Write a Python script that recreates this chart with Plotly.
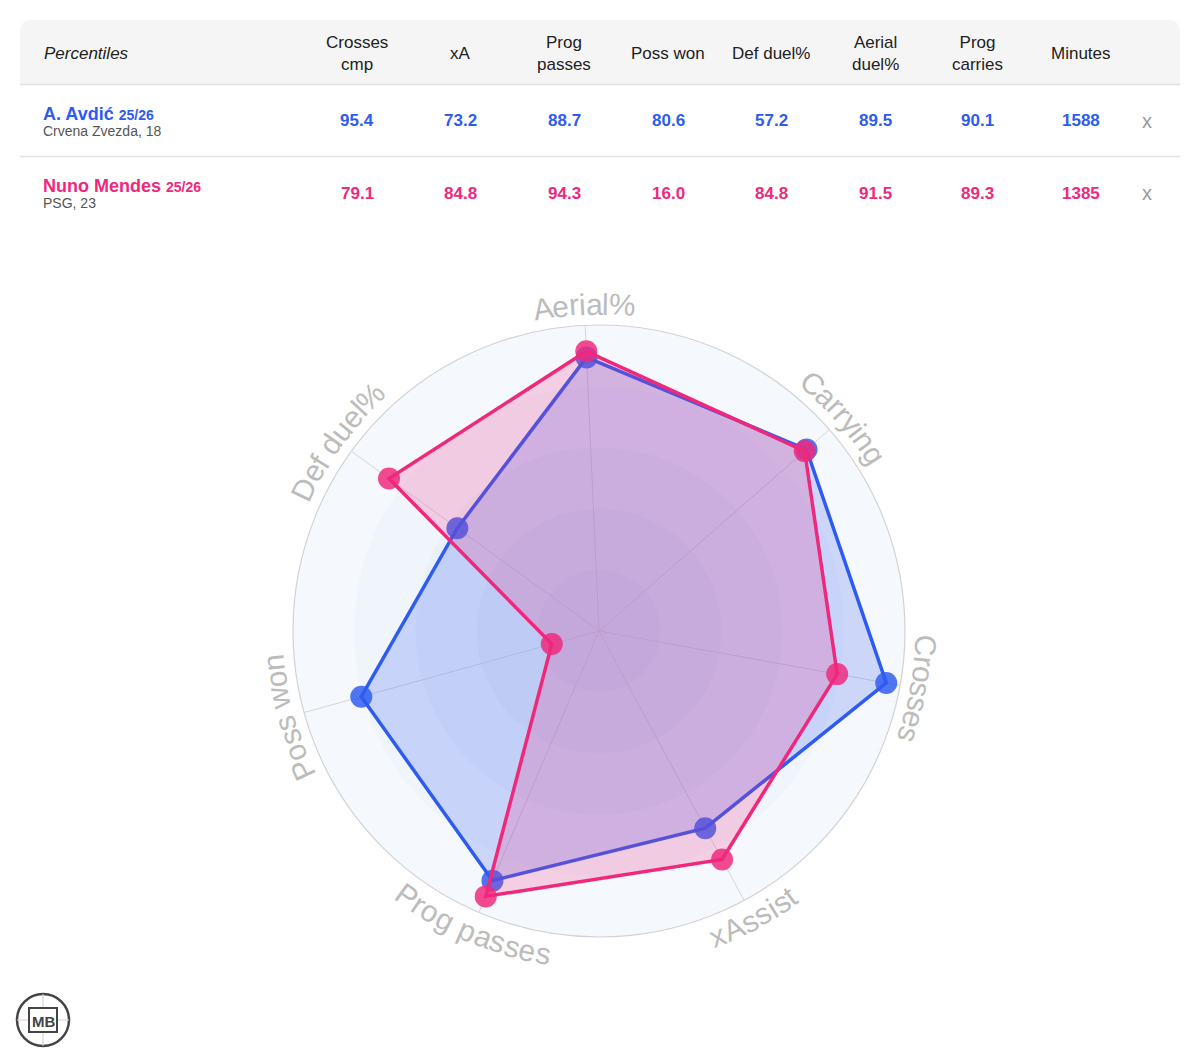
import math
import plotly.graph_objects as go

W, H = 1200, 1063

# ---------------- data ----------------
stat_headers = ["Crosses<br>cmp", "xA", "Prog<br>passes", "Poss won", "Def duel%",
                "Aerial<br>duel%", "Prog<br>carries", "Minutes"]
player_names = ["A. Avdić", "Nuno Mendes"]
player_seasons = ["25/26", "25/26"]
player_clubs = ["Crvena Zvezda, 18", "PSG, 23"]
avdic_pct = [95.4, 73.2, 88.7, 80.6, 57.2, 89.5, 90.1]
mendes_pct = [79.1, 84.8, 94.3, 16.0, 84.8, 91.5, 89.3]
avdic_minutes = 1588
mendes_minutes = 1385

radar_axes = ["Aerial%", "Carrying", "Crosses", "xAssist", "Prog passes", "Poss won", "Def duel%"]
avdic_radar = [89.5, 90.1, 95.4, 73.2, 88.7, 80.6, 57.2]
mendes_radar = [91.5, 89.3, 79.1, 84.8, 94.3, 16.0, 84.8]

band_levels = [100, 80, 60, 40, 20]
band_colors = ["#f5f8fc", "#f0f4fb", "#eaf0f9", "#e5ebf7", "#e0e7f5"]

BLUE = "#2f5cf0"
PINK = "#f0287c"
player_colors = [BLUE, PINK]

# ---------------- geometry helpers ----------------
def px(x):
    return x / W

def py(y):
    return 1 - y / H

CX, CY, RAD = 599, 631, 306
ROT = 92.6
polar_domain = dict(x=[px(CX - RAD), px(CX + RAD)], y=[py(CY + RAD), py(CY - RAD)])

FONT = "Liberation Sans, Arial, Helvetica, sans-serif"

fig = go.Figure()

# background bands (separate polar subplot underneath)
for lvl, col in zip(band_levels, band_colors):
    fig.add_trace(go.Barpolar(
        r=[lvl] * 4, theta=[45, 135, 225, 315], width=[90] * 4,
        marker=dict(color=col, line=dict(width=0)),
        hoverinfo="skip", subplot="polar", showlegend=False))

# radar traces
def closed(vals):
    return vals + vals[:1]

for vals, col, fillc in [(avdic_radar, BLUE, "rgba(47,92,240,0.21)"),
                         (mendes_radar, PINK, "rgba(240,40,124,0.20)")]:
    fig.add_trace(go.Scatterpolar(
        r=closed(vals), theta=closed(radar_axes), mode="lines", fill="toself",
        fillcolor=fillc, line=dict(color=col, width=3.5), subplot="polar2",
        hoverinfo="skip", showlegend=False))
    fig.add_trace(go.Scatterpolar(
        r=vals, theta=radar_axes, mode="markers",
        marker=dict(color=col, size=22, opacity=0.84, line=dict(width=0)),
        subplot="polar2", showlegend=False))

fig.update_layout(
    width=W, height=H,
    margin=dict(l=0, r=0, t=0, b=0),
    paper_bgcolor="white", plot_bgcolor="white",
    showlegend=False,
    polar=dict(
        domain=polar_domain, bgcolor="#f5f8fc", barmode="overlay", bargap=0,
        radialaxis=dict(range=[0, 100], visible=False, showgrid=False),
        angularaxis=dict(visible=False, showgrid=False, showline=False),
    ),
    polar2=dict(
        domain=polar_domain, bgcolor="rgba(0,0,0,0)",
        radialaxis=dict(range=[0, 100], visible=False, showgrid=False),
        angularaxis=dict(rotation=ROT, direction="clockwise", showticklabels=False,
                         ticks="", showline=True, linecolor="#d2d2d2", linewidth=1.2,
                         gridcolor="#d6d6d6", gridwidth=1),
    ),
)

annotations = []
shapes = []

# ---------------- curved axis labels ----------------
CHAR_W = {"A": 667, "e": 556, "r": 333, "i": 222, "a": 556, "l": 222, "%": 889, "C": 722,
          "y": 500, "n": 556, "g": 556, "o": 556, "s": 500, "x": 500, "S": 667, "t": 278,
          "P": 667, "p": 556, " ": 278, "w": 722, "D": 722, "f": 278, "d": 556, "u": 556}
LABEL_SIZE = 30
LABEL_R = 327

def norm(a):
    while a > 180:
        a -= 360
    while a < -180:
        a += 360
    return a

for k, name in enumerate(radar_axes):
    theta = norm(ROT - k * 360 / len(radar_axes))
    flip = -150 < theta < -30
    widths = [CHAR_W.get(c, 556) * LABEL_SIZE / 1000 for c in name]
    total = sum(widths)
    pos = -total / 2
    for c, w in zip(name, widths):
        mid = pos + w / 2
        pos += w
        if c == " ":
            continue
        d = math.degrees(mid / LABEL_R)
        ang = theta + d if flip else theta - d
        x = CX + LABEL_R * math.cos(math.radians(ang))
        y = CY - LABEL_R * math.sin(math.radians(ang))
        tang = norm((-90 - ang) if flip else (90 - ang))
        annotations.append(dict(
            x=px(x), y=py(y), xref="paper", yref="paper", text=c, showarrow=False,
            xanchor="center", yanchor="middle", textangle=tang,
            font=dict(family=FONT, size=LABEL_SIZE, color="#bcbcbc")))

# ---------------- table ----------------
L, R, T, HB = 20, 1180, 20, 84
rr = 12
shapes.append(dict(
    type="path", xref="paper", yref="paper",
    path=(f"M {px(L)},{py(HB)} L {px(L)},{py(T+rr)} Q {px(L)},{py(T)} {px(L+rr)},{py(T)} "
          f"L {px(R-rr)},{py(T)} Q {px(R)},{py(T)} {px(R)},{py(T+rr)} L {px(R)},{py(HB)} Z"),
    fillcolor="#f5f5f5", line=dict(width=0), layer="below"))
for yline in [84.5, 156.5]:
    shapes.append(dict(type="line", xref="paper", yref="paper",
                       x0=px(L), x1=px(R), y0=py(yline), y1=py(yline),
                       line=dict(color="#e2e2e2", width=1.5)))

col_x = [357, 460, 564, 668, 771, 875, 978, 1081]
annotations.append(dict(x=px(42), y=py(53), xref="paper", yref="paper", showarrow=False,
                        xanchor="left", yanchor="middle", text="<i>Percentiles</i>",
                        font=dict(family=FONT, size=17, color="#222222")))
for cx_, h in zip(col_x, stat_headers):
    annotations.append(dict(x=px(cx_), y=py(53.5), xref="paper", yref="paper", showarrow=False,
                            xanchor="center", yanchor="middle", text=h,
                            font=dict(family=FONT, size=17, color="#222222")))

rows_y = [121, 193]
all_vals = [avdic_pct + [avdic_minutes], mendes_pct + [mendes_minutes]]
for i in range(2):
    ry = rows_y[i]
    col = player_colors[i]
    annotations.append(dict(
        x=px(41), y=py(ry - 7), xref="paper", yref="paper", showarrow=False,
        xanchor="left", yanchor="middle",
        text=f"<b>{player_names[i]}</b> <b><span style='font-size:14px'>{player_seasons[i]}</span></b>",
        font=dict(family=FONT, size=18, color=col)))
    annotations.append(dict(
        x=px(41), y=py(ry + 10), xref="paper", yref="paper", showarrow=False,
        xanchor="left", yanchor="middle", text=player_clubs[i],
        font=dict(family=FONT, size=14, color="#555555")))
    for j, v in enumerate(all_vals[i]):
        txt = f"{v:.1f}" if j < 7 else f"{v}"
        annotations.append(dict(
            x=px(col_x[j]), y=py(ry), xref="paper", yref="paper", showarrow=False,
            xanchor="center", yanchor="middle", text=f"<b>{txt}</b>",
            font=dict(family=FONT, size=17, color=col)))
    annotations.append(dict(
        x=px(1147), y=py(ry), xref="paper", yref="paper", showarrow=False,
        xanchor="center", yanchor="middle", text="x",
        font=dict(family=FONT, size=20, color="#9a9a9a")))

# ---------------- logo ----------------
LX, LY, LR = 43, 1020, 26
shapes.append(dict(type="circle", xref="paper", yref="paper",
                   x0=px(LX - LR), x1=px(LX + LR), y0=py(LY + LR), y1=py(LY - LR),
                   line=dict(color="#444444", width=2.5), fillcolor="white"))
shapes.append(dict(type="line", xref="paper", yref="paper",
                   x0=px(LX - LR), x1=px(LX + LR), y0=py(LY), y1=py(LY),
                   line=dict(color="#e8c8d4", width=1)))
shapes.append(dict(type="line", xref="paper", yref="paper",
                   x0=px(LX), x1=px(LX), y0=py(LY - LR), y1=py(LY + LR),
                   line=dict(color="#d0d0d0", width=1)))
shapes.append(dict(type="rect", xref="paper", yref="paper",
                   x0=px(LX - 14), x1=px(LX + 14), y0=py(LY + 12), y1=py(LY - 12),
                   line=dict(color="#444444", width=2), fillcolor="white"))
annotations.append(dict(x=px(LX), y=py(LY + 1), xref="paper", yref="paper", showarrow=False,
                        xanchor="center", yanchor="middle", text="<b>MB</b>",
                        font=dict(family=FONT, size=15, color="#444444")))

fig.update_layout(annotations=annotations, shapes=shapes)
fig.write_html("out.html")
